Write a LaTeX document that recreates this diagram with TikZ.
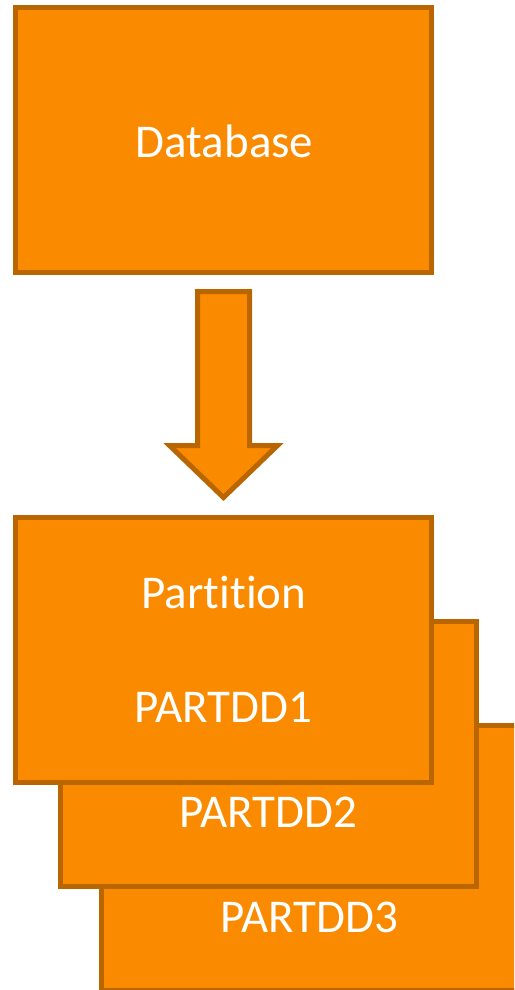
\documentclass[tikz,border=0pt]{standalone}
\usepackage{fontspec}
\setmainfont[Ligatures={NoCommon}]{Carlito}
\definecolor{boxfill}{RGB}{250,138,0}
\definecolor{boxline}{RGB}{186,102,0}
\begin{document}
\begin{tikzpicture}[x=1pt,y=-1pt,
  card/.style={draw=boxline,fill=boxfill,line width=5pt,inner sep=0pt,
    minimum width=416pt,minimum height=265pt,line join=miter},
  label/.style={text=white,font=\fontsize{47}{50}\selectfont,inner sep=0pt,anchor=base}]
\useasboundingbox (0,0) rectangle (514,990);
\clip (0,0) rectangle (514,990);

% source box
\node[card] (db) at (223.5,140) {};
\node[label] (dbtext) at (224.5,157) {Database};

% block arrow pointing down
\filldraw[draw=boxline,fill=boxfill,line width=5pt,line join=miter]
  (197.5,291.5) -- (249.5,291.5) -- (249.5,445.5) -- (277.5,445.5)
  -- (223.5,497.5) -- (169.5,445.5) -- (197.5,445.5) -- cycle;

% stacked partition boxes, back to front
\node[card] (p3) at (309.5,857.5) {};
\node[card] (p2) at (268.5,754) {};
\node[card] (p1) at (223.5,649.5) {};

\node[label] (ptitle) at (224,608) {Partition};
\node[label] (p1text) at (223.5,722) {PARTDD1};
\node[label] (p2text) at (268.5,827) {PARTDD2};
\node[label] (p3text) at (309,932) {PARTDD3};
\end{tikzpicture}
\end{document}
